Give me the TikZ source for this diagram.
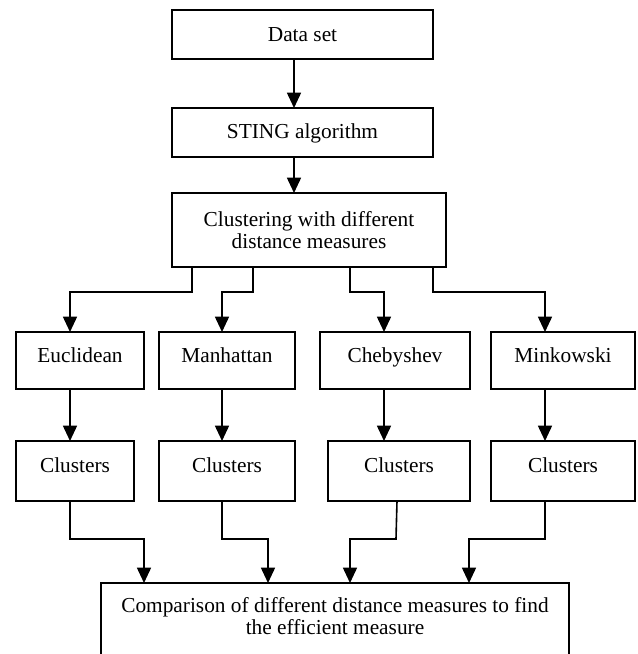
\documentclass[tikz,border=0pt]{standalone}
\usepackage{fontspec}
\setmainfont{Liberation Serif}
\usetikzlibrary{arrows.meta}
\begin{document}
\begin{tikzpicture}[x=0.75pt,y=-0.75pt,
  box/.style={draw,line width=1.2pt,inner sep=0pt,outer sep=0pt,anchor=north,
    font=\fontsize{16pt}{17pt}\selectfont},
  rowa/.style={box,text height=22.5pt,text depth=20.25pt},
  rowb/.style={box,text height=23.25pt,text depth=21.75pt},
  arr/.style={line width=1.2pt,-{Triangle[length=11.5pt,width=10.5pt]}}]
\useasboundingbox (0,0) rectangle (637,654);
\clip (0,0) rectangle (637,654);
\fill[white] (0,0) rectangle (637,654);
% boxes
\node[box,minimum width=195.75pt,text height=23.25pt,text depth=13.5pt] (data) at (302.5,10) {Data set};
\node[box,minimum width=195.75pt,text height=22.5pt,text depth=14.25pt] (sting) at (302.5,108) {STING algorithm};
\node[box,anchor=center,align=center,minimum width=205.5pt,minimum height=55.5pt] (clust) at (309,230) {Clustering with different\\distance measures};
\node[rowa,minimum width=96pt] (euc) at (80,332) {Euclidean};
\node[rowa,minimum width=102pt] (man) at (227,332) {Manhattan};
\node[rowa,minimum width=112.5pt] (che) at (395,332) {Chebyshev};
\node[rowa,minimum width=108pt] (mink) at (563,332) {Minkowski};
\node[rowb,minimum width=88.5pt] (cla) at (75,441) {Clusters};
\node[rowb,minimum width=102pt] (clb) at (227,441) {Clusters};
\node[rowb,minimum width=106.5pt] (clc) at (399,441) {Clusters};
\node[rowb,minimum width=108pt] (cld) at (563,441) {Clusters};
\node[box,align=center,minimum width=351pt] (comp) at (335,583)
  {\rule{0pt}{21.75pt}Comparison of different distance measures to find\\the efficient measure\rule[-27.75pt]{0pt}{27.75pt}};
% connectors
\draw[arr] (294,0 |- data.south) -- (294,0 |- sting.north);
\draw[arr] (294,0 |- sting.south) -- (294,0 |- clust.north);
\draw[arr] (192,0 |- clust.south) -- (192,292) -- (70,292) -- (70,0 |- euc.north);
\draw[arr] (253,0 |- clust.south) -- (253,292) -- (222,292) -- (222,0 |- man.north);
\draw[arr] (350,0 |- clust.south) -- (350,292) -- (384,292) -- (384,0 |- che.north);
\draw[arr] (433,0 |- clust.south) -- (433,292) -- (545,292) -- (545,0 |- mink.north);
\draw[arr] (70,0 |- euc.south) -- (70,0 |- cla.north);
\draw[arr] (222,0 |- man.south) -- (222,0 |- clb.north);
\draw[arr] (384,0 |- che.south) -- (384,0 |- clc.north);
\draw[arr] (545,0 |- mink.south) -- (545,0 |- cld.north);
\draw[arr] (70,0 |- cla.south) -- (70,539) -- (144,539) -- (144,0 |- comp.north);
\draw[arr] (222,0 |- clb.south) -- (222,539) -- (268,539) -- (268,0 |- comp.north);
\draw[arr] (397,0 |- clc.south) -- (396,539) -- (350,539) -- (350,0 |- comp.north);
\draw[arr] (545,0 |- cld.south) -- (545,539) -- (469,539) -- (469,0 |- comp.north);
\end{tikzpicture}
\end{document}
